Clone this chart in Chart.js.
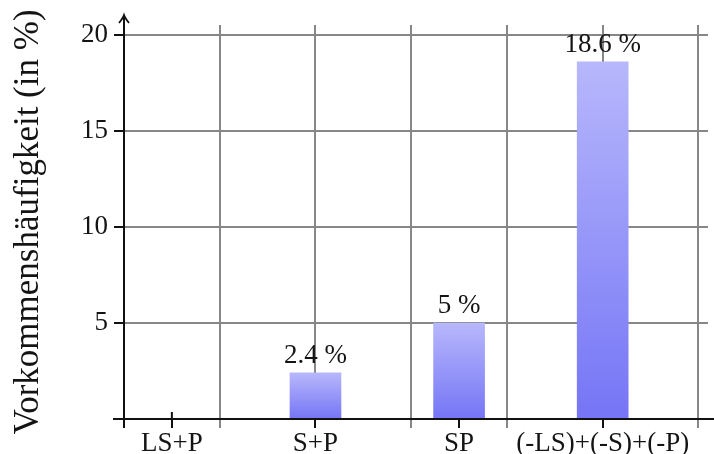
<!DOCTYPE html>
<html>
<head>
<meta charset="utf-8">
<script src="https://cdn.jsdelivr.net/npm/chart.js@4.4.1/dist/chart.umd.min.js"></script>
<style>
  html, body { margin: 0; padding: 0; background: #fff; }
  #wrap { width: 714px; height: 454px; }
</style>
</head>
<body>
<div id="wrap"><canvas id="c" width="714" height="454"></canvas></div>
<script>
// Occurrence of each pattern, in percent
const categories = ['LS+P', 'S+P', 'SP', '(-LS)+(-S)+(-P)'];
const shares = [0, 2.4, 5, 18.6];
const yTicks = [5, 10, 15, 20];
const yTitle = 'Vorkommenshäufigkeit (in %)';

// categories sit every 1.5 grid cells, starting half a cell from the axis
const catPos = i => 0.5 + 1.5 * i;
const catIndex = v => categories.findIndex((c, i) => Math.abs(catPos(i) - v) < 1e-9);
const isCat = v => catIndex(v) >= 0;

const FONT = "'Liberation Serif', 'Times New Roman', serif";
const INK = '#141414';
const GRID = '#878787';

function barFill(ctx) {
  const chart = ctx.chart;
  if (!chart.chartArea || !ctx.parsed) return '#9a9afa';
  const y = chart.scales.y;
  const top = y.getPixelForValue(ctx.parsed.y);
  const bottom = y.getPixelForValue(0);
  if (!(bottom - top > 0.5)) return '#9a9afa';
  const g = chart.ctx.createLinearGradient(0, top, 0, bottom);
  g.addColorStop(0, '#b7b7fc');
  g.addColorStop(1, '#7575f6');
  return g;
}

const axisDecor = {
  id: 'axisDecor',
  beforeDatasetsDraw(chart) {
    const {ctx, scales: {x, y}} = chart;
    const base = y.getPixelForValue(0);
    ctx.save();
    ctx.strokeStyle = '#111';
    ctx.lineWidth = 2;
    categories.forEach((c, i) => {
      const px = x.getPixelForValue(catPos(i));
      ctx.beginPath();
      ctx.moveTo(px, base - 7);
      ctx.lineTo(px, base);
      ctx.stroke();
    });
    ctx.restore();
  },
  afterDatasetsDraw(chart) {
    const {ctx, scales: {x, y}, chartArea} = chart;
    const base = y.getPixelForValue(0);
    const left = x.getPixelForValue(0);
    ctx.save();
    ctx.strokeStyle = '#111';
    ctx.lineWidth = 2;
    // x axis
    ctx.beginPath();
    ctx.moveTo(left - 11, base);
    ctx.lineTo(chart.width, base);
    ctx.stroke();
    // y axis with arrow head
    const tip = chartArea.top - 10;
    ctx.beginPath();
    ctx.moveTo(left, base + 9);
    ctx.lineTo(left, tip);
    ctx.stroke();
    ctx.lineWidth = 1.8;
    ctx.beginPath();
    ctx.moveTo(left - 5, tip + 8);
    ctx.quadraticCurveTo(left - 1, tip + 3, left, tip);
    ctx.quadraticCurveTo(left + 1, tip + 3, left + 5, tip + 8);
    ctx.stroke();

    // value labels above the bars
    ctx.fillStyle = INK;
    ctx.font = '27px ' + FONT;
    ctx.textAlign = 'center';
    ctx.textBaseline = 'alphabetic';
    const meta = chart.getDatasetMeta(0);
    meta.data.forEach((bar, i) => {
      const v = shares[i];
      if (!v) return;
      ctx.fillText(v + ' %', bar.x, bar.y - 10);
    });
    ctx.restore();
  }
};

new Chart(document.getElementById('c'), {
  type: 'bar',
  data: {
    datasets: [{
      data: shares.map((v, i) => ({x: catPos(i), y: v})),
      backgroundColor: barFill,
      borderWidth: 0,
      barThickness: 51
    }]
  },
  options: {
    responsive: false,
    animation: false,
    events: [],
    layout: { padding: { top: 25, right: 6, bottom: 0, left: 0 } },
    plugins: { legend: { display: false }, tooltip: { enabled: false } },
    scales: {
      x: {
        type: 'linear',
        offset: false,
        min: 0,
        max: 6.1,
        afterBuildTicks(axis) {
          const vals = [0, 1, 2, 3, 4, 5, 6];
          categories.forEach((c, i) => { if (!vals.includes(catPos(i))) vals.push(catPos(i)); });
          vals.sort((a, b) => a - b);
          axis.ticks = vals.map(v => ({value: v}));
        },
        afterFit(scale) { scale.height = 35; scale.paddingLeft = 0; scale.paddingRight = 0; },
        border: { display: false },
        grid: {
          offset: false,
          color: c => (c.tick && Number.isInteger(c.tick.value) && c.tick.value > 0) ? GRID : 'rgba(0,0,0,0)',
          tickColor: c => (c.tick && (isCat(c.tick.value) || c.tick.value === 0)) ? '#111' : GRID,
          lineWidth: 2,
          tickWidth: 2,
          tickLength: 9,
          drawTicks: true
        },
        ticks: {
          autoSkip: false,
          maxRotation: 0,
          minRotation: 0,
          padding: 0,
          color: INK,
          font: { family: FONT, size: 27 },
          callback: v => { const k = catIndex(v); return k >= 0 ? categories[k] : ''; }
        }
      },
      y: {
        min: 0,
        max: 20.52,
        afterBuildTicks(axis) { axis.ticks = yTicks.map(v => ({value: v})); },
        afterFit(scale) { scale.width = 124; },
        border: { display: false },
        grid: {
          color: GRID,
          tickColor: '#111',
          lineWidth: 2,
          tickWidth: 2,
          tickLength: 10
        },
        ticks: {
          padding: 6,
          color: INK,
          font: { family: FONT, size: 27 },
          callback: v => String(v)
        },
        title: {
          display: true,
          text: yTitle,
          color: INK,
          font: { family: FONT, size: 35 },
          padding: { top: 8, bottom: 0 }
        }
      }
    }
  },
  plugins: [axisDecor]
});
</script>
</body>
</html>
